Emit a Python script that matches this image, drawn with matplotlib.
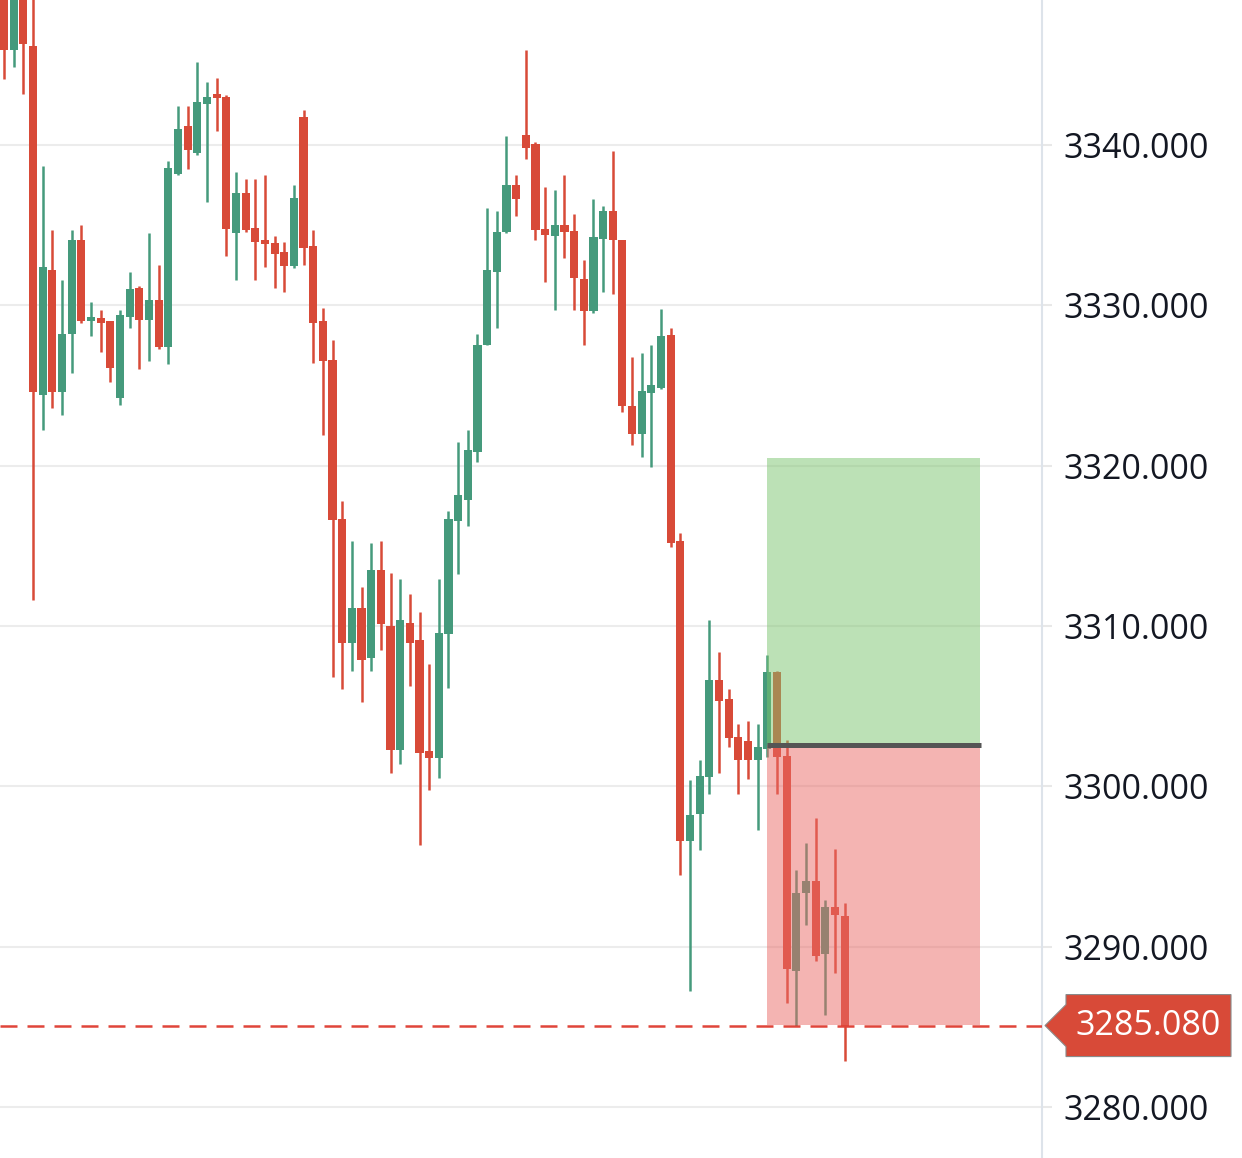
import matplotlib
matplotlib.use("Agg")
import matplotlib.pyplot as plt
from matplotlib.patches import Polygon, Rectangle

# ---------------- data ----------------
opens = [3350.5, 3345.9, 3350.3, 3346.2, 3324.4, 3332.2, 3324.6, 3328.2, 3334.1, 3329.0,
         3329.2, 3329.0, 3324.2, 3329.3, 3331.1, 3329.1, 3330.3, 3327.4, 3338.2, 3341.2,
         3339.5, 3342.55, 3343.15, 3343.0, 3334.5, 3337.0, 3334.8, 3334.05, 3333.9, 3333.35,
         3332.45, 3341.75, 3333.7, 3329.0, 3326.6, 3316.7, 3308.95, 3311.1, 3308.0, 3313.5,
         3310.0, 3302.25, 3310.2, 3309.1, 3302.2, 3301.75, 3309.5, 3316.55, 3317.85, 3320.85,
         3327.55, 3332.1, 3334.55, 3337.5, 3340.6, 3340.05, 3334.75, 3334.35, 3335.0, 3334.65,
         3331.65, 3329.65, 3334.15, 3335.9, 3334.05, 3323.75, 3322.0, 3324.5, 3324.85, 3328.15,
         3315.3, 3296.6, 3298.3, 3300.6, 3306.6, 3305.45, 3303.1, 3302.85, 3301.65, 3302.3,
         3307.15, 3301.9, 3288.5, 3293.35, 3294.1, 3289.55, 3292.45, 3291.9]
highs = [3351.5, 3351.0, 3351.0, 3349.8, 3338.7, 3334.7, 3331.6, 3334.7, 3335.0, 3330.2,
         3329.7, 3329.0, 3329.7, 3332.1, 3331.2, 3334.5, 3332.5, 3339.0, 3342.4, 3342.4,
         3345.2, 3343.9, 3344.2, 3343.1, 3338.3, 3337.9, 3337.9, 3338.1, 3334.3, 3333.95,
         3337.5, 3342.2, 3334.7, 3329.85, 3327.85, 3317.8, 3315.3, 3312.4, 3315.2, 3315.3,
         3313.3, 3312.9, 3312.0, 3310.9, 3307.6, 3312.9, 3317.2, 3321.5, 3322.2, 3328.2,
         3336.05, 3335.85, 3340.55, 3338.1, 3345.95, 3340.2, 3337.35, 3337.2, 3338.1, 3335.7,
         3332.85, 3336.6, 3336.2, 3339.6, 3334.1, 3326.8, 3327.0, 3327.5, 3329.8, 3328.6,
         3315.8, 3300.4, 3301.65, 3310.4, 3308.35, 3306.1, 3303.9, 3304.1, 3303.9, 3308.2,
         3307.2, 3302.9, 3294.8, 3296.45, 3298.0, 3292.9, 3296.1, 3292.75]
lows = [3344.1, 3344.85, 3343.15, 3311.6, 3322.2, 3323.6, 3323.15, 3325.8, 3328.9, 3328.1,
        3327.1, 3325.2, 3323.8, 3328.6, 3326.0, 3326.55, 3327.3, 3326.35, 3338.1, 3338.5,
        3339.4, 3336.45, 3340.9, 3333.1, 3331.6, 3334.55, 3331.6, 3332.4, 3331.05, 3330.85,
        3332.35, 3332.5, 3326.4, 3321.9, 3306.8, 3306.05, 3307.2, 3305.25, 3307.2, 3308.5,
        3300.8, 3301.4, 3306.25, 3296.35, 3299.8, 3300.5, 3306.15, 3313.25, 3316.25, 3320.2,
        3327.5, 3328.6, 3334.5, 3335.55, 3339.1, 3334.05, 3331.45, 3329.7, 3332.95, 3329.7,
        3327.5, 3329.55, 3330.85, 3330.7, 3323.35, 3321.3, 3320.55, 3319.9, 3324.8, 3314.95,
        3294.5, 3287.25, 3296.0, 3299.5, 3300.8, 3302.45, 3299.5, 3300.45, 3297.3, 3301.85,
        3299.5, 3286.5, 3285.05, 3291.35, 3289.1, 3285.75, 3288.35, 3282.85]
closes = [3345.9, 3350.2, 3346.3, 3324.6, 3332.4, 3324.6, 3328.2, 3334.1, 3329.0, 3329.3,
          3328.9, 3326.1, 3329.4, 3331.0, 3329.1, 3330.3, 3327.4, 3338.55, 3341.0, 3339.7,
          3342.7, 3343.0, 3342.9, 3334.75, 3337.0, 3334.7, 3333.95, 3333.8, 3333.2, 3332.45,
          3336.7, 3333.6, 3328.9, 3326.5, 3316.6, 3308.95, 3311.1, 3307.85, 3313.5, 3310.1,
          3302.25, 3310.4, 3308.95, 3302.05, 3301.75, 3309.55, 3316.65, 3318.15, 3320.95, 3327.5,
          3332.2, 3334.6, 3337.5, 3336.6, 3339.8, 3334.7, 3334.4, 3335.0, 3334.55, 3331.7,
          3329.65, 3334.25, 3335.9, 3334.05, 3323.7, 3322.0, 3324.65, 3325.0, 3328.1, 3315.2,
          3296.6, 3298.2, 3300.65, 3306.6, 3305.35, 3303.0, 3301.65, 3301.65, 3302.45, 3307.15,
          3301.85, 3288.6, 3293.35, 3294.1, 3289.4, 3292.45, 3292.0, 3285.08]

price_ticks = [3280, 3290, 3300, 3310, 3320, 3330, 3340]

# long position tool
pos_start = 79
pos_end = 101
entry_price = 3302.6
target_price = 3320.5
stop_price = 3285.1
last_price = 3285.08

# ---------------- style ----------------
GREEN = "#459a7c"
RED = "#d84a38"
FONT = ["Open Sans", "DejaVu Sans"]

W, H = 1242, 1158
fig = plt.figure(figsize=(W / 100, H / 100), dpi=100)
ax = fig.add_axes([0, 0, 1042 / W, 1])

n = len(opens)
xs = list(range(n))
for i in xs:
    o, h, l, c = opens[i], highs[i], lows[i], closes[i]
    col = GREEN if c >= o else RED
    ax.vlines(i, l, h, color=col, lw=1.8, zorder=2)
    bh = max(abs(c - o), 0.2)
    ax.bar(i, bh, bottom=min(o, c), width=0.84, color=col, lw=0, zorder=3)

# position boxes (drawn over candles, translucent)
ax.add_patch(Rectangle((pos_start, entry_price), pos_end - pos_start, target_price - entry_price,
                       facecolor="#7bc46e", alpha=0.5, lw=0, zorder=4))
ax.add_patch(Rectangle((pos_start, stop_price), pos_end - pos_start, entry_price - stop_price,
                       facecolor="#ea6a66", alpha=0.5, lw=0, zorder=4))
ax.plot([pos_start, pos_end + 0.15], [entry_price, entry_price], color="#555555", lw=3.6,
        solid_capstyle="butt", zorder=5)

# last price dashed line
ax.axhline(last_price, color="#e0453a", lw=1.8, ls=(0, (6.8, 4)), zorder=6)

ax.set_xlim(-0.414, 107.42)
ax.set_ylim(3276.82, 3349.04)

ax.set_yticks(price_ticks)
ax.set_yticklabels([f"{p:.3f}" for p in price_ticks], fontfamily=FONT)
ax.yaxis.tick_right()
ax.tick_params(axis="y", length=7.5, width=1.5, color="#e8e8e8", pad=8,
               labelsize=24.5, labelcolor="#131722")
ax.set_xticks([])
ax.grid(axis="y", color="#ececec", lw=1.5, zorder=0)
ax.set_axisbelow(True)
for s in ["left", "top", "bottom"]:
    ax.spines[s].set_visible(False)
ax.spines["right"].set_color("#dde3ea")
ax.spines["right"].set_linewidth(1.5)

# price tag on the axis
fig.canvas.draw()
xa = ax.transAxes.transform((1, 0))[0]
yd = ax.transData.transform((0, last_price))[1]
pts = [(xa + 3, yd), (xa + 24, yd + 21), (xa + 24, yd + 31), (xa + 189, yd + 31),
       (xa + 189, yd - 31), (xa + 24, yd - 31), (xa + 24, yd - 21)]
tag = Polygon(pts, closed=True, facecolor=RED, edgecolor="#8a8a8a", lw=0.8,
              transform=None, clip_on=False, zorder=10)
fig.add_artist(tag)
fig.text((xa + 106.5) / W, yd / H, f"{last_price:.3f}", color="white", fontsize=24.5,
         fontfamily=FONT, ha="center", va="center", zorder=11)

fig.savefig("out.png", dpi=100)
